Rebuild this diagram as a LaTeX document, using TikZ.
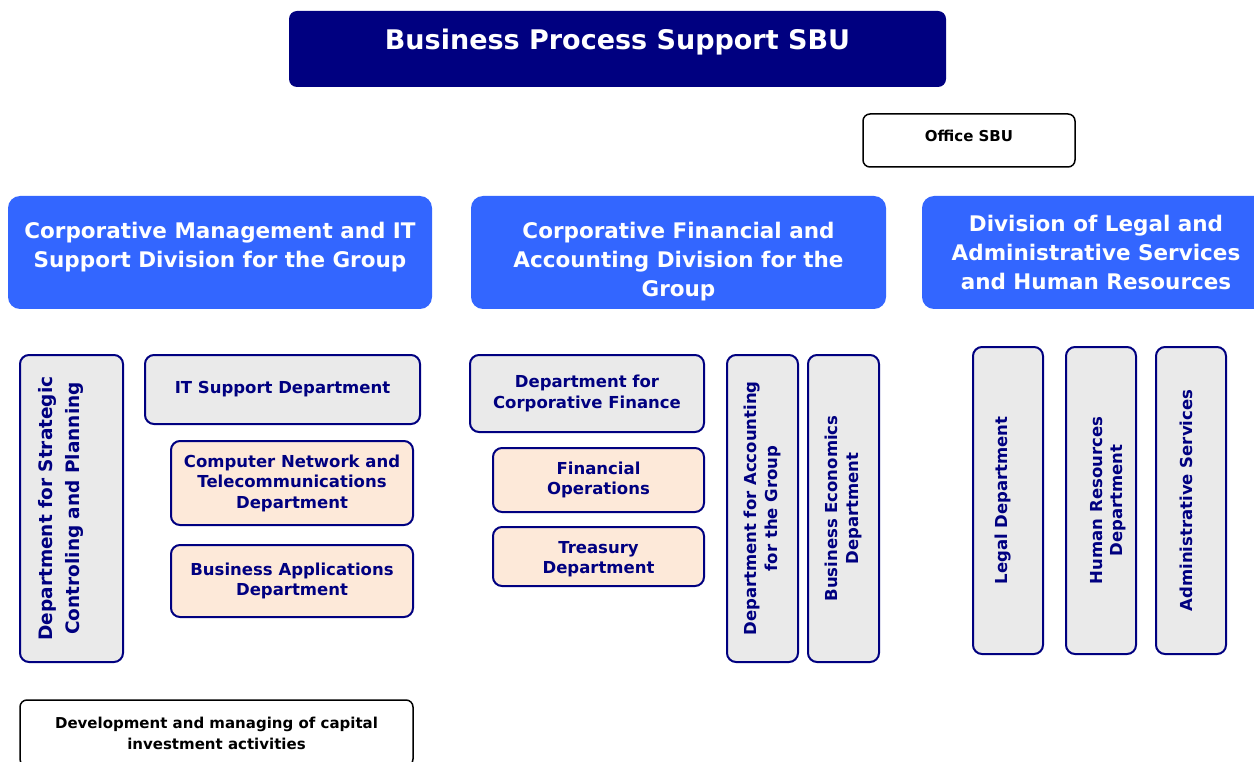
\documentclass[tikz,border=0pt]{standalone}
\usepackage{fontspec}
\setmainfont{DejaVu Sans}
\usetikzlibrary{positioning}
\definecolor{navy}{HTML}{000080}
\definecolor{divblue}{HTML}{3366FF}
\definecolor{boxgrey}{HTML}{EAEAEA}
\definecolor{peach}{HTML}{FDE9D9}
\newcommand{\padtop}[1]{\rule{0pt}{#1}} % taller first line, pushes the text down
\newcommand{\padbot}[1]{\rule[-#1]{0pt}{#1}} % deeper last line, pushes the text up
\tikzset{
x=1pt, y=-1pt, % one unit is one pixel of the chart, y runs downwards
every node/.style={align=center, inner sep=0pt}, % all texts centred in their boxes
head/.style={fill=navy, text=white, rounded corners=8pt, font=\bfseries\fontsize{27}{32}\selectfont},
division/.style={fill=divblue, text=white, rounded corners=12pt, font=\bfseries\fontsize{21.5}{29}\selectfont},
dept/.style={draw=navy, line width=2pt, fill=boxgrey, text=navy, rounded corners=9pt, font=\bfseries\fontsize{16.5}{20.5}\selectfont},
subdept/.style={dept, fill=peach}, % units below a department
vdept/.style={dept, rotate=90}, % tall boxes, text read upwards
office/.style={draw=black, line width=1.5pt, fill=white, rounded corners=7pt, font=\bfseries\fontsize{15}{21}\selectfont},
}
\begin{document}
\begin{tikzpicture}
            \useasboundingbox (0,0) rectangle (1254,762);

            \node[head, minimum width=657, minimum height=76, text depth=20pt] (sbu) at (617.5,49) {Business Process Support SBU};
            \node[office, minimum width=212, minimum height=53] (office) at (969,140.5) {Office SBU\padbot{9pt}};

            \node[division, minimum width=424, minimum height=113] (cmit) at (220,252.5) {Corporative Management and IT\\Support Division for the Group\padbot{15pt}};
            \node[division, minimum width=415, minimum height=113] (cfa) at (678.5,252.5) {\padtop{34pt}Corporative Financial and\\Accounting Division for the\\Group};
            \node[division, minimum width=348, minimum height=113] (lahr) at (1096,252.5) {Division of Legal and\\Administrative Services\\and Human Resources};

            \node[vdept, minimum width=307, minimum height=103, font=\bfseries\fontsize{18.5}{27}\selectfont] (strat) at (71.5,508.5) {Department for Strategic\\Controling and Planning\padbot{26pt}};
            \node[dept, minimum width=275, minimum height=69] (itsup) at (282.5,389.5) {IT Support Department};
            \node[subdept, minimum width=242, minimum height=84] (network) at (292,483) {Computer Network and\\Telecommunications\\Department};
            \node[subdept, minimum width=242, minimum height=72] (bizapp) at (292,581) {Business Applications\\Department};
            \node[office, minimum width=393, minimum height=66] (capinv) at (216.5,733) {Development and managing of capital\\investment activities};

            \node[dept, minimum width=234, minimum height=77] (corpfin) at (587,393.5) {Department for\\Corporative Finance};
            \node[subdept, minimum width=211, minimum height=64] (finops) at (598.5,480) {Financial\\Operations};
            \node[subdept, minimum width=211, minimum height=59] (treasury) at (598.5,556.5) {\padtop{17pt}Treasury\\Department};
            \node[vdept, minimum width=307, minimum height=71] (acc) at (762.5,508.5) {Department for Accounting\\for the Group};
            \node[vdept, minimum width=307, minimum height=71] (bizecon) at (843.5,508.5) {Business Economics\\Department};

            \node[vdept, minimum width=307, minimum height=70] (legal) at (1008,500.5) {Legal Department\padbot{13pt}};
            \node[vdept, minimum width=307, minimum height=70] (hr) at (1101,500.5) {\padtop{26pt}Human Resources\\Department};
            \node[vdept, minimum width=307, minimum height=70] (admin) at (1191,500.5) {Administrative Services\padbot{9pt}};
\end{tikzpicture}
\end{document}
